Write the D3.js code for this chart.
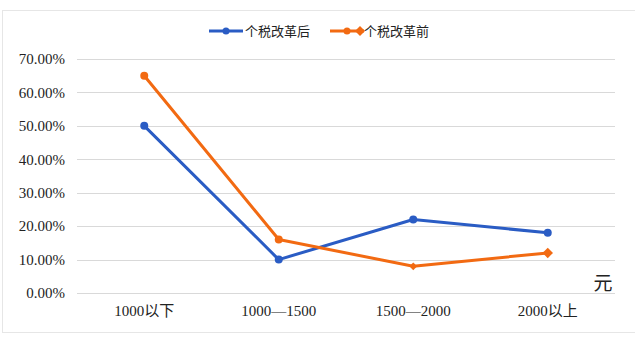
<!DOCTYPE html>
<html><head><meta charset="utf-8">
<script src="https://cdn.jsdelivr.net/npm/d3@7"></script>
<style>body{margin:0;background:#fff}svg{display:block}
.t{font-family:"Liberation Serif","DejaVu Serif","Times New Roman","Noto Sans CJK SC",serif}</style>
</head><body>
<svg id="c" width="635" height="338"></svg>
<script>
const categories = ["1000以下", "1000—1500", "1500—2000", "2000以上"];
const afterReform = [0.50, 0.10, 0.22, 0.18];
const beforeReform = [0.65, 0.16, 0.08, 0.12];
const yTicks = [0, 0.1, 0.2, 0.3, 0.4, 0.5, 0.6, 0.7];
const seriesNames = ["个税改革后", "个税改革前"];
const colors = ["#2a5cc4", "#f26a12"];

const svg = d3.select("#c");

svg.append("rect").attr("x", 2.5).attr("y", 10.5).attr("width", 640).attr("height", 322)
  .attr("fill", "none").attr("stroke", "#e6e6e6");

const x = d3.scaleBand().domain(categories).range([77, 615]);
const y = d3.scaleLinear().domain([0, 0.7]).range([293, 59]);

const grid = svg.append("g");
grid.selectAll("line").data(yTicks).join("line")
  .attr("x1", 77).attr("x2", 615)
  .attr("y1", d => Math.round(y(d)) + 0.5).attr("y2", d => Math.round(y(d)) + 0.5)
  .attr("stroke", "#d9d9d9").attr("stroke-width", 1.2);

const yAxis = d3.axisLeft(y).tickValues(yTicks).tickFormat(d3.format(".2%")).tickSize(0).tickPadding(0);
const ya = svg.append("g").attr("transform", "translate(65,0)").call(yAxis).attr("font-family", null);
ya.select(".domain").remove();
ya.selectAll("text").attr("class", "t").style("font-size", "15px").attr("fill", "#222");

const xAxis = d3.axisBottom(x).tickSize(0).tickPadding(0);
const xa = svg.append("g").attr("transform", "translate(0,305)").call(xAxis).attr("font-family", null);
xa.select(".domain").remove();
xa.selectAll("text").attr("class", "t").style("font-size", "15px").attr("fill", "#222");

svg.append("text").attr("x", 603).attr("y", 290).attr("text-anchor", "middle")
  .style("font-family", "'Noto Sans CJK SC',sans-serif").style("font-size", "19px").attr("fill", "#222").text("元");

const cx = i => x(categories[i]) + x.bandwidth() / 2;
const line = d3.line().x((d, i) => cx(i)).y(d => y(d));
const data = [afterReform, beforeReform];

data.forEach((vals, s) => {
  svg.append("path").datum(vals).attr("d", line).attr("fill", "none")
    .attr("stroke", colors[s]).attr("stroke-width", 3).attr("stroke-linejoin", "round");
});
svg.selectAll(".m0").data(afterReform).join("circle")
  .attr("cx", (d, i) => cx(i)).attr("cy", d => y(d))
  .attr("r", 4).attr("fill", colors[0]);
svg.selectAll(".m1").data(beforeReform).join("path")
  .attr("transform", (d, i) => i < 2 ? `translate(${cx(i)},${y(d)})` : `translate(${cx(i)},${y(d)}) rotate(45)`)
  .attr("d", (d, i) => d3.symbol().type(i < 2 ? d3.symbolCircle : d3.symbolSquare).size(i < 2 ? 50 : (i === 3 ? 55 : 30))())
  .attr("fill", colors[1]);

const leg = svg.append("g");
const legItems = [{x: 209, tx: 245}, {x: 330, tx: 364}];
legItems.forEach((it, s) => {
  leg.append("line").attr("x1", it.x).attr("x2", it.x + 34).attr("y1", 31).attr("y2", 31)
    .attr("stroke", colors[s]).attr("stroke-width", 3);
  leg.append("circle").attr("cx", it.x + 17).attr("cy", 31).attr("r", 3.5).attr("fill", colors[s]);
  if (s === 1) leg.append("path").attr("transform", `translate(${it.x + 30},31) rotate(45)`)
    .attr("d", d3.symbol().type(d3.symbolSquare).size(50)()).attr("fill", colors[s]);
  leg.append("text").attr("x", it.tx).attr("y", 36).attr("class", "t")
    .style("font-size", "13px").attr("fill", "#222").text(seriesNames[s]);
});
</script>
</body></html>
